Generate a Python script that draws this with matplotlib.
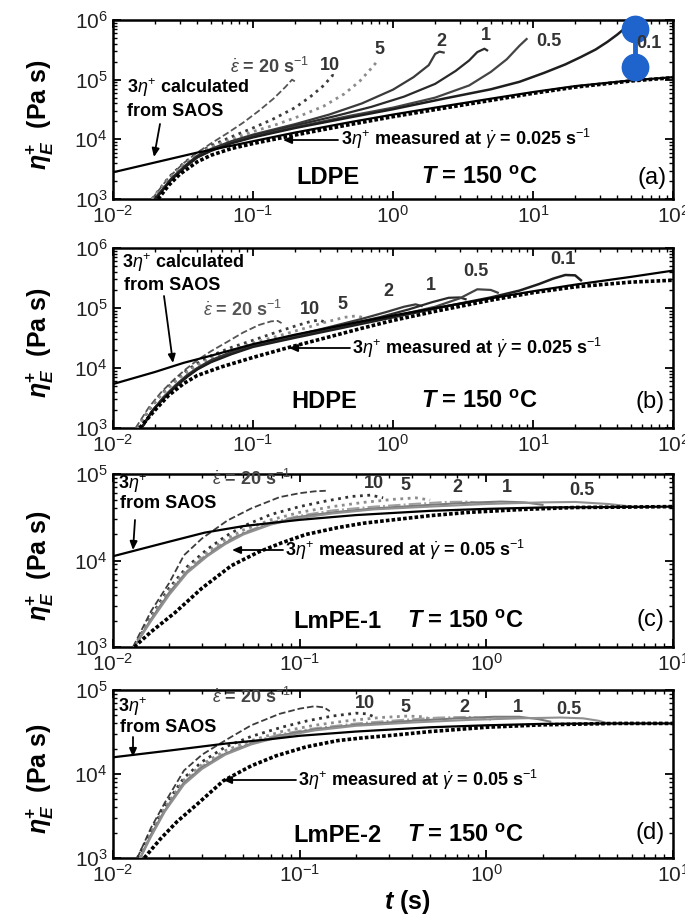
import matplotlib
matplotlib.use("Agg")
import matplotlib.pyplot as plt
from matplotlib.ticker import LogLocator, LogFormatterMathtext, NullFormatter

plt.rcParams.update({
    "font.family": ["Liberation Sans", "DejaVu Sans"],
    "mathtext.fontset": "custom",
    "mathtext.rm": "Liberation Sans",
    "mathtext.it": "Liberation Sans:italic",
    "mathtext.bf": "Liberation Sans:bold",
    "mathtext.bfit": "Liberation Sans:italic:bold",
})

# ---------------- data ----------------
RATES_AB = [20, 10, 5, 2, 1, 0.5, 0.1]
RATES_CD = [20, 10, 5, 2, 1, 0.5]

# (a) LDPE
A_LVE_T = [0.01, 0.02, 0.04, 0.07, 0.1, 0.2, 0.5, 1, 2, 5, 10, 20, 50, 100]
A_LVE_ETA = [2.8e3, 4.1e3, 6.0e3, 7.8e3, 9.3e3, 1.3e4, 1.95e4, 2.6e4, 3.4e4, 4.8e4, 6.2e4, 7.8e4, 9.7e4, 1.1e5]
A_SHEAR_T = [0.021, 0.025, 0.03, 0.04, 0.05, 0.07, 0.1, 0.15, 0.2, 0.3, 0.5, 1, 2, 5, 10, 20, 50, 100]
A_SHEAR_ETA = [1.0e3, 1.7e3, 2.6e3, 4.2e3, 5.4e3, 7.0e3, 8.5e3, 1.03e4, 1.18e4, 1.42e4, 1.78e4, 2.4e4, 3.15e4, 4.5e4, 5.9e4, 7.5e4, 9.5e4, 1.08e5]
A_T = [
    [0.019, 0.025, 0.032, 0.04, 0.05, 0.065, 0.085, 0.11, 0.14, 0.17, 0.19, 0.2],
    [0.019, 0.025, 0.032, 0.04, 0.05, 0.07, 0.1, 0.14, 0.2, 0.26, 0.32, 0.37, 0.39],
    [0.019, 0.025, 0.032, 0.04, 0.05, 0.07, 0.1, 0.15, 0.22, 0.32, 0.45, 0.58, 0.7, 0.76, 0.78],
    [0.02, 0.026, 0.033, 0.04, 0.05, 0.07, 0.1, 0.2, 0.35, 0.6, 1.0, 1.4, 1.8, 2.0, 2.15, 2.3],
    [0.02, 0.026, 0.033, 0.04, 0.05, 0.07, 0.1, 0.2, 0.4, 0.7, 1.2, 2.0, 2.8, 3.5, 4.0, 4.5, 4.7],
    [0.02, 0.026, 0.033, 0.04, 0.05, 0.07, 0.1, 0.2, 0.5, 1, 2, 3.5, 5, 6.5, 8, 9],
    [0.02, 0.026, 0.033, 0.04, 0.05, 0.07, 0.1, 0.2, 0.5, 1, 2.4, 5, 8, 12, 17, 22, 28, 34, 40, 46],
]
A_ETA = [
    [1e3, 2.3e3, 4.0e3, 6.0e3, 8.5e3, 1.25e4, 1.9e4, 3.0e4, 4.8e4, 7.5e4, 1.0e5, 9.3e4],
    [1e3, 2.3e3, 4.0e3, 5.8e3, 7.8e3, 1.1e4, 1.55e4, 2.2e4, 3.4e4, 5.3e4, 8.0e4, 1.18e5, 1.12e5],
    [1e3, 2.2e3, 3.8e3, 5.6e3, 7.4e3, 1.0e4, 1.35e4, 1.8e4, 2.5e4, 3.6e4, 5.8e4, 9.5e4, 1.55e5, 1.95e5, 1.85e5],
    [1e3, 2.2e3, 3.7e3, 5.3e3, 6.9e3, 9.3e3, 1.2e4, 1.8e4, 2.6e4, 4.0e4, 6.8e4, 1.1e5, 1.75e5, 2.7e5, 2.95e5, 2.85e5],
    [1e3, 2.1e3, 3.6e3, 5.2e3, 6.7e3, 9.0e3, 1.15e4, 1.7e4, 2.5e4, 3.5e4, 5.2e4, 8.5e4, 1.4e5, 2.1e5, 2.9e5, 3.3e5, 3.1e5],
    [1e3, 2.1e3, 3.5e3, 5.0e3, 6.5e3, 8.8e3, 1.1e4, 1.6e4, 2.5e4, 3.4e4, 5.0e4, 8.0e4, 1.35e5, 2.2e5, 3.7e5, 4.8e5],
    [1e3, 2.1e3, 3.5e3, 5.0e3, 6.4e3, 8.6e3, 1.08e4, 1.55e4, 2.35e4, 3.2e4, 4.9e4, 6.9e4, 9.2e4, 1.3e5, 1.8e5, 2.4e5, 3.2e5, 4.3e5, 5.7e5, 7.5e5],
]
# blue marker drawn over panel (a)
MARK_T = [53.6, 53.6]
MARK_ETA = [7.2e5, 1.6e5]

# (b) HDPE
B_LVE_T = [0.01, 0.02, 0.032, 0.05, 0.1, 0.2, 0.5, 1, 2, 5, 10, 20, 50, 100]
B_LVE_ETA = [5.4e3, 8.6e3, 1.22e4, 1.6e4, 2.5e4, 3.6e4, 5.5e4, 7.5e4, 1.0e5, 1.45e5, 1.9e5, 2.45e5, 3.3e5, 4.2e5]
B_SHEAR_T = [0.0155, 0.02, 0.025, 0.032, 0.04, 0.06, 0.1, 0.18, 0.3, 0.6, 1, 2, 5, 10, 20, 50, 100]
B_SHEAR_ETA = [1e3, 2.0e3, 3.5e3, 5.5e3, 7.5e3, 1.05e4, 1.5e4, 2.2e4, 3.0e4, 4.6e4, 6.2e4, 8.8e4, 1.35e5, 1.8e5, 2.25e5, 2.7e5, 2.9e5]
B_T = [
    [0.0145, 0.018, 0.022, 0.027, 0.033, 0.04, 0.05, 0.065, 0.085, 0.11, 0.135, 0.15, 0.16],
    [0.015, 0.018, 0.022, 0.027, 0.033, 0.04, 0.05, 0.07, 0.1, 0.14, 0.2, 0.26, 0.3, 0.32],
    [0.015, 0.018, 0.022, 0.027, 0.033, 0.04, 0.05, 0.07, 0.1, 0.15, 0.22, 0.32, 0.45, 0.55, 0.6],
    [0.016, 0.019, 0.023, 0.028, 0.034, 0.04, 0.05, 0.07, 0.1, 0.2, 0.35, 0.6, 0.9, 1.2, 1.45, 1.6],
    [0.016, 0.019, 0.023, 0.028, 0.034, 0.04, 0.05, 0.07, 0.1, 0.2, 0.4, 0.8, 1.3, 1.9, 2.5, 3.0, 3.3],
    [0.016, 0.019, 0.023, 0.028, 0.034, 0.04, 0.05, 0.07, 0.1, 0.2, 0.5, 1, 2, 3, 4, 5, 5.6],
    [0.016, 0.019, 0.023, 0.028, 0.034, 0.04, 0.05, 0.07, 0.1, 0.2, 0.5, 1, 2, 5, 8, 11, 14, 17, 20, 22],
]
B_ETA = [
    [1e3, 2.2e3, 3.9e3, 6.3e3, 9.5e3, 1.35e4, 1.9e4, 2.7e4, 3.9e4, 5.2e4, 6.0e4, 6.1e4, 5.6e4],
    [1e3, 2.0e3, 3.6e3, 5.9e3, 8.8e3, 1.2e4, 1.6e4, 2.2e4, 2.9e4, 3.8e4, 5.0e4, 6.0e4, 6.3e4, 5.9e4],
    [1e3, 2.0e3, 3.5e3, 5.6e3, 8.3e3, 1.12e4, 1.45e4, 1.95e4, 2.6e4, 3.4e4, 4.4e4, 5.7e4, 7.0e4, 7.4e4, 7.0e4],
    [1e3, 1.9e3, 3.3e3, 5.2e3, 7.7e3, 1.0e4, 1.35e4, 1.85e4, 2.4e4, 3.5e4, 4.8e4, 6.6e4, 8.6e4, 1.05e5, 1.15e5, 1.08e5],
    [1e3, 1.9e3, 3.2e3, 5.0e3, 7.4e3, 9.7e3, 1.3e4, 1.8e4, 2.35e4, 3.4e4, 4.9e4, 7.0e4, 9.5e4, 1.25e5, 1.48e5, 1.5e5, 1.4e5],
    [1e3, 1.9e3, 3.2e3, 5.0e3, 7.3e3, 9.6e3, 1.28e4, 1.75e4, 2.3e4, 3.3e4, 5.2e4, 7.2e4, 1.05e5, 1.45e5, 2.05e5, 2.0e5, 1.8e5],
    [1e3, 1.9e3, 3.1e3, 4.9e3, 7.2e3, 9.5e3, 1.25e4, 1.7e4, 2.25e4, 3.2e4, 5.0e4, 7.0e4, 9.8e4, 1.5e5, 1.95e5, 2.5e5, 3.1e5, 3.55e5, 3.5e5, 2.9e5],
]

# (c) LmPE-1
C_LVE_T = [0.01, 0.02, 0.031, 0.05, 0.1, 0.2, 0.5, 1, 2, 5, 10]
C_LVE_ETA = [1.12e4, 1.65e4, 2.1e4, 2.5e4, 2.95e4, 3.35e4, 3.75e4, 3.95e4, 4.1e4, 4.15e4, 4.2e4]
C_SHEAR_T = [0.013, 0.016, 0.0215, 0.03, 0.043, 0.06, 0.08, 0.108, 0.16, 0.22, 0.32, 0.5, 0.8, 1.6, 3, 6, 10]
C_SHEAR_ETA = [1e3, 1.5e3, 2.5e3, 4.8e3, 8.7e3, 1.25e4, 1.6e4, 2.0e4, 2.4e4, 2.7e4, 2.96e4, 3.3e4, 3.6e4, 3.9e4, 4.1e4, 4.15e4, 4.2e4]
C_T = [
    [0.0128, 0.016, 0.02, 0.024, 0.03, 0.041, 0.055, 0.078, 0.1, 0.12, 0.138],
    [0.013, 0.016, 0.02, 0.025, 0.032, 0.04, 0.05, 0.07, 0.1, 0.14, 0.19, 0.24, 0.28],
    [0.013, 0.016, 0.02, 0.025, 0.032, 0.04, 0.05, 0.07, 0.1, 0.15, 0.22, 0.32, 0.42, 0.5],
    [0.013, 0.016, 0.02, 0.025, 0.032, 0.04, 0.05, 0.07, 0.1, 0.15, 0.25, 0.4, 0.6, 0.8, 1.0],
    [0.013, 0.016, 0.02, 0.025, 0.032, 0.04, 0.05, 0.07, 0.1, 0.15, 0.25, 0.5, 0.8, 1.2, 1.6, 2.0],
    [0.013, 0.016, 0.02, 0.025, 0.032, 0.04, 0.05, 0.07, 0.1, 0.15, 0.25, 0.5, 1, 2, 3, 4.5, 6],
]
C_ETA = [
    [1e3, 2.6e3, 5.5e3, 1.15e4, 1.8e4, 2.9e4, 4.0e4, 5.4e4, 6.0e4, 6.3e4, 6.4e4],
    [1e3, 2.3e3, 4.8e3, 8.5e3, 1.35e4, 1.9e4, 2.5e4, 3.4e4, 4.2e4, 4.9e4, 5.5e4, 5.7e4, 5.3e4],
    [1e3, 2.2e3, 4.5e3, 8e3, 1.25e4, 1.75e4, 2.25e4, 2.95e4, 3.6e4, 4.2e4, 4.7e4, 5.1e4, 5.3e4, 5.0e4],
    [1e3, 2.1e3, 4.3e3, 7.6e3, 1.2e4, 1.65e4, 2.1e4, 2.75e4, 3.3e4, 3.8e4, 4.2e4, 4.5e4, 4.75e4, 4.8e4, 4.5e4],
    [1e3, 2.1e3, 4.2e3, 7.4e3, 1.15e4, 1.6e4, 2.05e4, 2.65e4, 3.2e4, 3.6e4, 4.0e4, 4.4e4, 4.65e4, 4.8e4, 4.7e4, 4.4e4],
    [1e3, 2.0e3, 4.0e3, 7.2e3, 1.12e4, 1.55e4, 2.0e4, 2.6e4, 3.1e4, 3.5e4, 3.9e4, 4.2e4, 4.5e4, 4.7e4, 4.75e4, 4.5e4, 4.2e4],
]

# (d) LmPE-2
D_LVE_T = [0.01, 0.02, 0.04, 0.07, 0.1, 0.2, 0.5, 1, 2, 5, 10]
D_LVE_ETA = [1.58e4, 1.9e4, 2.3e4, 2.6e4, 2.85e4, 3.2e4, 3.6e4, 3.8e4, 3.95e4, 4.0e4, 4.0e4]
D_SHEAR_T = [0.0147, 0.018, 0.022, 0.028, 0.039, 0.055, 0.075, 0.108, 0.16, 0.22, 0.32, 0.5, 1, 2, 5, 10]
D_SHEAR_ETA = [1e3, 1.7e3, 2.7e3, 4.3e3, 8.3e3, 1.25e4, 1.65e4, 2.1e4, 2.5e4, 2.7e4, 2.9e4, 3.2e4, 3.6e4, 3.85e4, 4.0e4, 4.0e4]
D_T = [
    [0.0135, 0.016, 0.019, 0.024, 0.03, 0.041, 0.055, 0.078, 0.1, 0.12, 0.135, 0.145],
    [0.0135, 0.016, 0.019, 0.024, 0.03, 0.04, 0.055, 0.08, 0.11, 0.15, 0.2, 0.23, 0.25],
    [0.014, 0.016, 0.019, 0.024, 0.03, 0.04, 0.055, 0.08, 0.12, 0.18, 0.27, 0.38, 0.46, 0.52],
    [0.014, 0.016, 0.019, 0.024, 0.03, 0.04, 0.055, 0.08, 0.12, 0.2, 0.35, 0.55, 0.8, 1.0, 1.1],
    [0.014, 0.016, 0.019, 0.024, 0.03, 0.04, 0.055, 0.08, 0.12, 0.2, 0.4, 0.7, 1.1, 1.5, 1.9, 2.2],
    [0.014, 0.016, 0.019, 0.024, 0.03, 0.04, 0.055, 0.08, 0.12, 0.2, 0.4, 0.8, 1.5, 2.5, 3.3, 4.0, 4.5],
]
D_ETA = [
    [1e3, 2.3e3, 4.6e3, 1.1e4, 1.7e4, 2.6e4, 3.8e4, 5.2e4, 6.0e4, 6.4e4, 6.2e4, 5.6e4],
    [1e3, 2.1e3, 4.2e3, 9.0e3, 1.4e4, 2.1e4, 2.8e4, 3.6e4, 4.3e4, 4.9e4, 5.3e4, 5.2e4, 4.8e4],
    [1e3, 2.0e3, 4.0e3, 8.5e3, 1.3e4, 1.9e4, 2.5e4, 3.2e4, 3.8e4, 4.3e4, 4.7e4, 4.9e4, 4.8e4, 4.4e4],
    [1e3, 1.9e3, 3.8e3, 8.0e3, 1.25e4, 1.8e4, 2.4e4, 3.0e4, 3.5e4, 4.0e4, 4.4e4, 4.7e4, 4.8e4, 4.6e4, 4.3e4],
    [1e3, 1.9e3, 3.7e3, 7.8e3, 1.2e4, 1.75e4, 2.3e4, 2.9e4, 3.4e4, 3.85e4, 4.3e4, 4.6e4, 4.8e4, 4.8e4, 4.5e4, 4.2e4],
    [1e3, 1.8e3, 3.6e3, 7.5e3, 1.15e4, 1.7e4, 2.25e4, 2.8e4, 3.3e4, 3.75e4, 4.1e4, 4.4e4, 4.6e4, 4.7e4, 4.6e4, 4.3e4, 4.0e4],
]

# ---------------- styles ----------------
STY_AB = {
    20: dict(ls="--", color="#555555", lw=1.3),
    10: dict(ls=":", color="#3c3c3c", lw=2.0),
    5: dict(ls=":", color="#8c8c8c", lw=2.0),
    2: dict(ls="-", color="#3a3a3a", lw=1.6),
    1: dict(ls="-", color="#2a2a2a", lw=1.6),
    0.5: dict(ls="-", color="#444444", lw=1.6),
    0.1: dict(ls="-", color="#1e1e1e", lw=1.8),
}
STY_CD = {
    20: dict(ls="--", color="#3c3c3c", lw=1.3),
    10: dict(ls=":", color="#333333", lw=2.0),
    5: dict(ls=":", color="#8c8c8c", lw=2.0),
    2: dict(ls="-.", color="#a0a0a0", lw=1.4),
    1: dict(ls="-", color="#7a7a7a", lw=1.5),
    0.5: dict(ls="-", color="#909090", lw=1.5),
}

W, H = 685, 915
LEFT, RIGHT = 113, 673

def fp(x, y):
    return (x / W, 1 - y / H)

fig = plt.figure(figsize=(W / 100, H / 100), dpi=100)

panels = [
    dict(box=(20, 199), xlim=(1e-2, 1e2), ylim=(1e3, 1e6), rates=RATES_AB, t=A_T, eta=A_ETA,
         lt=A_LVE_T, le=A_LVE_ETA, st=A_SHEAR_T, se=A_SHEAR_ETA, sty=STY_AB),
    dict(box=(248, 428), xlim=(1e-2, 1e2), ylim=(1e3, 1e6), rates=RATES_AB, t=B_T, eta=B_ETA,
         lt=B_LVE_T, le=B_LVE_ETA, st=B_SHEAR_T, se=B_SHEAR_ETA, sty=STY_AB),
    dict(box=(474, 647), xlim=(1e-2, 1e1), ylim=(1e3, 1e5), rates=RATES_CD, t=C_T, eta=C_ETA,
         lt=C_LVE_T, le=C_LVE_ETA, st=C_SHEAR_T, se=C_SHEAR_ETA, sty=STY_CD),
    dict(box=(690, 858), xlim=(1e-2, 1e1), ylim=(1e3, 1e5), rates=RATES_CD, t=D_T, eta=D_ETA,
         lt=D_LVE_T, le=D_LVE_ETA, st=D_SHEAR_T, se=D_SHEAR_ETA, sty=STY_CD),
]

axes = []
for p in panels:
    top, bot = p["box"]
    ax = fig.add_axes([LEFT / W, 1 - bot / H, (RIGHT - LEFT) / W, (bot - top) / H])
    ax.set_xscale("log"); ax.set_yscale("log")
    for r, tt, ee in zip(p["rates"], p["t"], p["eta"]):
        ax.plot(tt, ee, **p["sty"][r], zorder=3)
    ax.plot(p["st"], p["se"], color="k", lw=2.6, ls=(0, (1.0, 0.6)), zorder=4)
    ax.plot(p["lt"], p["le"], color="k", lw=1.6, zorder=5)
    ax.set_xlim(*p["xlim"]); ax.set_ylim(*p["ylim"])
    for axis in (ax.xaxis, ax.yaxis):
        axis.set_major_locator(LogLocator(base=10, numticks=12))
        axis.set_minor_locator(LogLocator(base=10, subs=range(2, 10), numticks=12))
        axis.set_major_formatter(LogFormatterMathtext())
        axis.set_minor_formatter(NullFormatter())
    ax.tick_params(which="both", direction="in", top=True, right=True, labelsize=15,
                   labelcolor="#222222", pad=4)
    ax.tick_params(which="major", length=6, width=1.3)
    ax.tick_params(which="minor", length=3, width=1.0)
    for s in ax.spines.values():
        s.set_linewidth(1.8)
    fig.text(40 / W, 1 - ((top + bot) / 2 + 5) / H,
             r"$\mathbfit{\eta}^{\mathbf{+}}_{\mathbfit{E}}$  (Pa s)",
             rotation=90, ha="center", va="center", fontsize=18, fontweight="bold")
    axes.append(ax)

axes[0].plot(MARK_T, MARK_ETA, "-o", color="#1f63cc", lw=3.5, ms=19, zorder=10, clip_on=False)

BOLD = dict(fontweight="bold", fontsize=13, ha="left", va="center")
RATE = dict(fontweight="bold", fontsize=13, ha="center", va="center", color="#333333")
BIG = dict(fontweight="bold", fontsize=17, va="center")
PAN = dict(fontsize=17, ha="center", va="center")

def txt(x, y, s, **kw):
    fig.text(*fp(x, y), s, **kw)

def arrow(x0, y0, x1, y1):
    fig.add_artist(matplotlib.patches.FancyArrowPatch(
        fp(x0, y0), fp(x1, y1), transform=fig.transFigure,
        arrowstyle="-|>,head_length=5,head_width=2.2", lw=1.3, color="k",
        shrinkA=0, shrinkB=0, zorder=20))

EPS = r"$\dot{\varepsilon}$ = 20 s$^{-1}$"
TEMP = r"$\mathbfit{T}$ = 150 $^{\mathbf{o}}$C"

# (a)
txt(127, 88, r"3$\eta^{+}$ calculated", **BOLD)
txt(127, 112, "from SAOS", **BOLD)
arrow(160, 124, 154, 157)
txt(230, 67, EPS, **{**BOLD, "color": "#444444"})
for s, x, y in [("10", 330, 65), ("5", 379, 50), ("2", 441, 42), ("1", 486, 35),
                ("0.5", 549, 42), ("0.1", 649, 44)]:
    txt(x, y, s, **RATE)
txt(341, 139, r"3$\eta^{+}$ measured at $\dot{\gamma}$ = 0.025 s$^{-1}$", **BOLD)
arrow(338, 140, 283, 140)
txt(328, 178, "LDPE", ha="center", **BIG)
txt(421, 178, TEMP, ha="left", **BIG)
txt(652, 178, "(a)", **PAN)

# (b)
txt(122, 263, r"3$\eta^{+}$ calculated", **BOLD)
txt(124, 285, "from SAOS", **BOLD)
arrow(164, 296, 173, 363)
txt(203, 310, EPS, **{**BOLD, "color": "#555555"})
for s, x, y in [("10", 310, 310), ("5", 342, 305), ("2", 388, 292), ("1", 431, 285),
                ("0.5", 476, 272), ("0.1", 563, 260)]:
    txt(x, y, s, **RATE)
txt(352, 348, r"3$\eta^{+}$ measured at $\dot{\gamma}$ = 0.025 s$^{-1}$", **BOLD)
arrow(350, 348, 289, 348)
txt(324, 402, "HDPE", ha="center", **BIG)
txt(421, 402, TEMP, ha="left", **BIG)
txt(650, 402, "(b)", **PAN)

# (c)
txt(118, 484, r"3$\eta^{+}$", **BOLD)
txt(120, 503, "from SAOS", **BOLD)
arrow(135, 520, 133, 550)
txt(212, 479, EPS, **{**BOLD, "color": "#444444"})
for s, x, y in [("10", 374, 484), ("5", 405, 486), ("2", 457, 488), ("1", 507, 487),
                ("0.5", 582, 490)]:
    txt(x, y, s, **RATE)
txt(285, 550, r"3$\eta^{+}$ measured at $\dot{\gamma}$ = 0.05 s$^{-1}$", **BOLD)
arrow(283, 550, 232, 550)
txt(293, 622, "LmPE-1", ha="left", **BIG)
txt(407, 622, TEMP, ha="left", **BIG)
txt(650, 620, "(c)", **PAN)

# (d)
txt(118, 707, r"3$\eta^{+}$", **BOLD)
txt(120, 727, "from SAOS", **BOLD)
arrow(133, 737, 133, 757)
txt(212, 697, EPS, **{**BOLD, "color": "#444444"})
for s, x, y in [("10", 365, 703), ("5", 405, 707), ("2", 464, 707), ("1", 518, 707),
                ("0.5", 569, 709)]:
    txt(x, y, s, **RATE)
txt(298, 780, r"3$\eta^{+}$ measured at $\dot{\gamma}$ = 0.05 s$^{-1}$", **BOLD)
arrow(296, 780, 223, 780)
txt(293, 835, "LmPE-2", ha="left", **BIG)
txt(407, 835, TEMP, ha="left", **BIG)
txt(650, 833, "(d)", **PAN)

txt(407, 902, r"$\mathbfit{t}$ (s)", fontweight="bold", fontsize=18, ha="center", va="center")

fig.savefig("out.png", dpi=100)
